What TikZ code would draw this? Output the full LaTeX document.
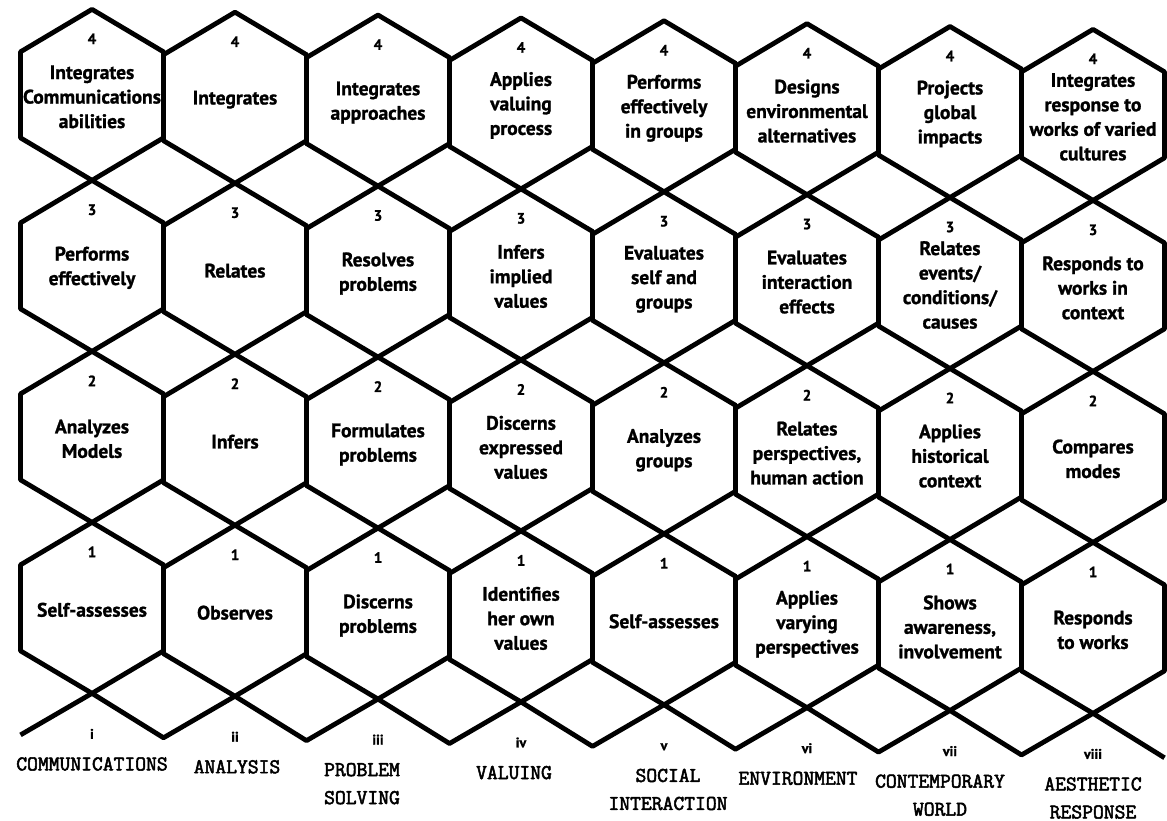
\documentclass[tikz,border=0pt]{standalone}
\usepackage{fontspec}
\newfontfamily\cellfont[BoldFeatures={FakeBold=1.2}]{PT Sans}
\newfontfamily\areafont[FakeBold=2.5]{Latin Modern Mono}
\usetikzlibrary{positioning}

\begin{document}
\begin{tikzpicture}[
    x=1pt, y=-1pt,
    hexline/.style={line width=4.8pt, line join=round},
    lvl/.style={font=\cellfont\bfseries\fontsize{15}{18}\selectfont, inner sep=0pt},
    txt/.style={font=\cellfont\bfseries\fontsize{19.5}{24.5}\selectfont, align=center, inner sep=0pt},
    numer/.style={font=\cellfont\bfseries\fontsize{14}{16}\selectfont, inner sep=0pt, anchor=base},
    area/.style={font=\areafont\fontsize{21}{28}\selectfont, align=center, inner sep=0pt},
    % one hexagon with its level on top and its text in the middle
    pics/cell/.style 2 args={code={
        \draw[hexline] (0,-85.5) -- (71.5,-43) -- (71.5,43) -- (0,85.5) -- (-71.5,43) -- (-71.5,-43) -- cycle;
        \node[lvl] (-num) at (0,-56) {#1};
        \node[txt] (-txt) at (0,2) {#2};
    }}
]
    \useasboundingbox (0,0) rectangle (1167,821);
    \begin{scope}[yslant=-0.02]
    % level 4
    \pic (comm4) at (92,93) {cell={4}{Integrates\\Communications\\abilities}};
    \pic (anal4) at (235,93) {cell={4}{Integrates}};
    \pic (prob4) at (378,93) {cell={4}{Integrates\\approaches}};
    \pic (valu4) at (521,93) {cell={4}{Applies\\valuing\\process}};
    \pic (soci4) at (664,93) {cell={4}{Performs\\effectively\\in groups}};
    \pic (envi4) at (807,93) {cell={4}{Designs\\environmental\\alternatives}};
    \pic (cont4) at (950,93) {cell={4}{Projects\\global\\impacts}};
    \pic (aest4) at (1093,93) {cell={4}{Integrates\\response to\\works of varied\\cultures}};
    % level 3
    \pic (comm3) at (92,264) {cell={3}{Performs\\effectively}};
    \pic (anal3) at (235,264) {cell={3}{Relates}};
    \pic (prob3) at (378,264) {cell={3}{Resolves\\problems}};
    \pic (valu3) at (521,264) {cell={3}{Infers\\implied\\values}};
    \pic (soci3) at (664,264) {cell={3}{Evaluates\\self and\\groups}};
    \pic (envi3) at (807,264) {cell={3}{Evaluates\\interaction\\effects}};
    \pic (cont3) at (950,264) {cell={3}{Relates\\events/\\conditions/\\causes}};
    \pic (aest3) at (1093,264) {cell={3}{Responds to\\works in\\context}};
    % level 2
    \pic (comm2) at (92,435) {cell={2}{Analyzes\\Models}};
    \pic (anal2) at (235,435) {cell={2}{Infers}};
    \pic (prob2) at (378,435) {cell={2}{Formulates\\problems}};
    \pic (valu2) at (521,435) {cell={2}{Discerns\\expressed\\values}};
    \pic (soci2) at (664,435) {cell={2}{Analyzes\\groups}};
    \pic (envi2) at (807,435) {cell={2}{Relates\\perspectives,\\human action}};
    \pic (cont2) at (950,435) {cell={2}{Applies\\historical\\context}};
    \pic (aest2) at (1093,435) {cell={2}{Compares\\modes}};
    % level 1
    \pic (comm1) at (92,606) {cell={1}{Self-assesses}};
    \pic (anal1) at (235,606) {cell={1}{Observes}};
    \pic (prob1) at (378,606) {cell={1}{Discerns\\problems}};
    \pic (valu1) at (521,606) {cell={1}{Identifies\\her own\\values}};
    \pic (soci1) at (664,606) {cell={1}{Self-assesses}};
    \pic (envi1) at (807,606) {cell={1}{Applies\\varying\\perspectives}};
    \pic (cont1) at (950,606) {cell={1}{Shows\\awareness,\\involvement}};
    \pic (aest1) at (1093,606) {cell={1}{Responds\\to works}};

    \draw[hexline] (20.5,734.5) -- (92,691.5) -- (163.5,734.5) -- (235,691.5) -- (306.5,734.5)
        -- (378,691.5) -- (449.5,734.5) -- (521,691.5) -- (592.5,734.5) -- (664,691.5)
        -- (735.5,734.5) -- (807,691.5) -- (878.5,734.5) -- (950,691.5) -- (1021.5,734.5)
        -- (1093,691.5) -- (1164.5,734.5);

    \node[numer] (nri) at (92,737) {i};
    \node[numer] (nrii) at (235,737) {ii};
    \node[numer] (nriii) at (378,737) {iii};
    \node[numer] (nriv) at (521,737) {iv};
    \node[numer] (nrv) at (664,737) {v};
    \node[numer] (nrvi) at (807,737) {vi};
    \node[numer] (nrvii) at (950,737) {vii};
    \node[numer] (nrviii) at (1093,737) {viii};

    \node[area, below=18pt of nri] (commlab) {COMMUNICATIONS};
    \node[area, below=18pt of nrii, xshift=2pt] (anallab) {ANALYSIS};
    \node[area, below=18pt of nriii, xshift=-16pt] (problab) {PROBLEM\\SOLVING};
    \node[area, below=18pt of nriv, xshift=-7pt] (valulab) {VALUING};
    \node[area, below=18pt of nrv, xshift=4pt] (socilab) {SOCIAL\\INTERACTION};
    \node[area, below=18pt of nrvi, xshift=-9pt] (envilab) {ENVIRONMENT};
    \node[area, below=18pt of nrvii, xshift=-10pt] (contlab) {CONTEMPORARY\\WORLD};
    \node[area, below=18pt of nrviii] (aestlab) {AESTHETIC\\RESPONSE};
    \end{scope}
\end{tikzpicture}
\end{document}
